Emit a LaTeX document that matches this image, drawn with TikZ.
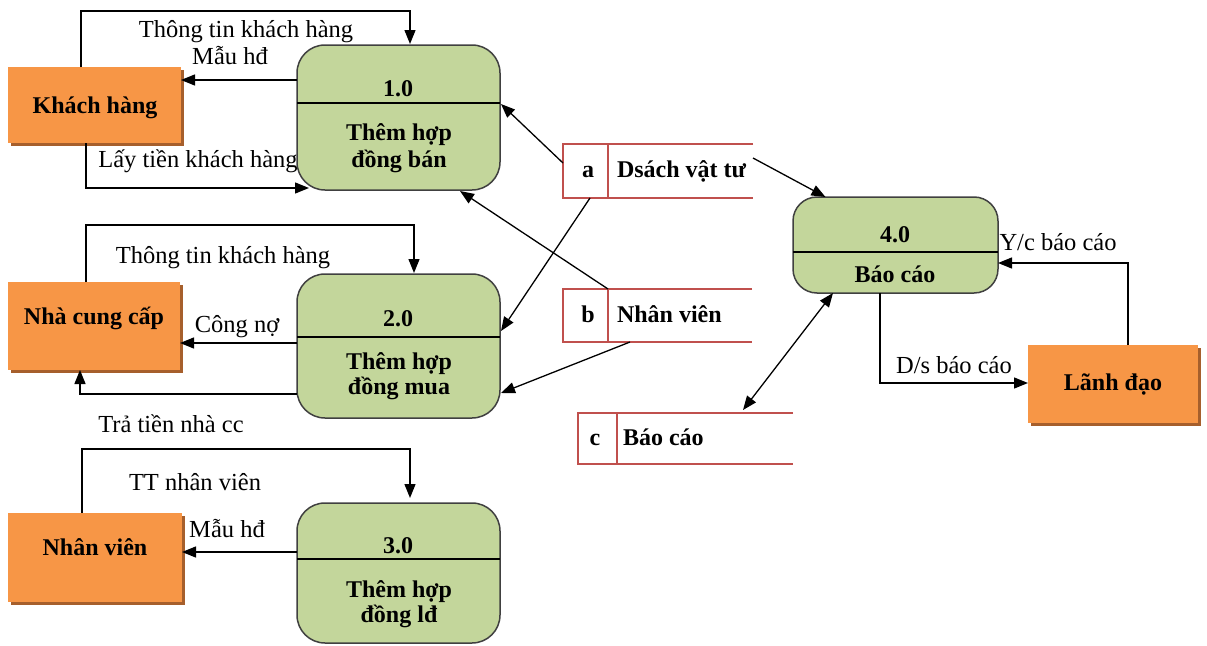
\documentclass[tikz,border=0pt]{standalone}
\usepackage{fontspec}
\setmainfont{Liberation Serif}
\usetikzlibrary{arrows.meta,shadows}
\definecolor{entorange}{HTML}{F79646}
\definecolor{entshadow}{HTML}{A65F2C}
\definecolor{procgreen}{HTML}{C3D69B}
\definecolor{procedge}{HTML}{404040}
\definecolor{storered}{HTML}{C0504D}
\begin{document}
\begin{tikzpicture}[x=1pt,y=-1pt,
  every node/.style={inner sep=0pt,outer sep=0pt},
  flow/.style={draw=black,line width=1.3pt,-{Triangle[length=14pt,width=11pt]}},
  biflow/.style={draw=black,line width=1.3pt,{Triangle[length=14pt,width=11pt]}-{Triangle[length=14pt,width=11pt]}},
  entity/.style={fill=entorange,anchor=north west,
    drop shadow={shadow xshift=3pt,shadow yshift=-3pt,fill=entshadow,opacity=1}},
  process/.style={draw=procedge,line width=1.5pt,fill=procgreen,rounded corners=28pt,anchor=north west},
  divider/.style={draw=black,line width=1.4pt},
  storebox/.style={anchor=north west},
  storeline/.style={draw=storered,line width=2.6pt},
  boldtxt/.style={anchor=base,font=\bfseries\fontsize{24}{28}\selectfont},
  flowtxt/.style={anchor=base,font=\fontsize{24.5}{28}\selectfont},
  storetxt/.style={anchor=base west,font=\bfseries\fontsize{24}{28}\selectfont}]
\useasboundingbox (0,0) rectangle (1207,645);

% ---- external entities
\node[entity,minimum width=173pt,minimum height=76pt] (kh) at (8,67) {};
\node[entity,minimum width=172pt,minimum height=88pt] (ncc) at (8,282) {};
\node[entity,minimum width=174pt,minimum height=89pt] (nv) at (8,513) {};
\node[entity,minimum width=170pt,minimum height=78pt] (ld) at (1028,345) {};
\node[boldtxt] (khT) at (95,113) {Khách hàng};
\node[boldtxt] (nccT) at (94,324) {Nhà cung cấp};
\node[boldtxt] (nvT) at (95,555) {Nhân viên};
\node[boldtxt] (ldT) at (1113,390) {Lãnh đạo};

% ---- flow labels (drawn before the processes)
\node[flowtxt] (l1) at (246,37) {Thông tin khách hàng};
\node[flowtxt] (l2) at (230,64) {Mẫu hđ};
\node[flowtxt] (l3) at (198,167) {Lấy tiền khách hàng};
\node[flowtxt] (l4) at (223,263) {Thông tin khách hàng};
\node[flowtxt] (l5) at (237,332) {Công nợ};
\node[flowtxt] (l6) at (171,432) {Trả tiền nhà cc};
\node[flowtxt] (l7) at (195,490) {TT nhân viên};
\node[flowtxt] (l8) at (227,537) {Mẫu hđ};
\node[flowtxt] (l9) at (1058,250) {Y/c báo cáo};
\node[flowtxt] (l10) at (954,373) {D/s báo cáo};

% ---- processes
\node[process,minimum width=203pt,minimum height=145pt] (p1) at (297,45) {};
\node[process,minimum width=203pt,minimum height=144pt] (p2) at (297,274) {};
\node[process,minimum width=203pt,minimum height=140pt] (p3) at (297,503) {};
\node[process,rounded corners=24pt,minimum width=205pt,minimum height=96pt] (p4) at (793,197) {};
\draw[divider] (p1.west |- 0,103) -- (p1.east |- 0,103);
\draw[divider] (p2.west |- 0,337) -- (p2.east |- 0,337);
\draw[divider] (p3.west |- 0,559) -- (p3.east |- 0,559);
\draw[divider] (p4.west |- 0,252) -- (p4.east |- 0,252);
\node[boldtxt] (p1n) at (398,96) {1.0};
\node[boldtxt] (p1a) at (399,140) {Thêm hợp};
\node[boldtxt] (p1b) at (399,167) {đồng bán};
\node[boldtxt] (p2n) at (398,326) {2.0};
\node[boldtxt] (p2a) at (399,369) {Thêm hợp};
\node[boldtxt] (p2b) at (399,394) {đồng mua};
\node[boldtxt] (p3n) at (398,553) {3.0};
\node[boldtxt] (p3a) at (399,597) {Thêm hợp};
\node[boldtxt] (p3b) at (399,622) {đồng lđ};
\node[boldtxt] (p4n) at (895,242) {4.0};
\node[boldtxt] (p4a) at (895,282) {Báo cáo};

% ---- data stores (open on the right)
\node[storebox,minimum width=190pt,minimum height=54pt] (sa) at (563,144) {};
\node[storebox,minimum width=189pt,minimum height=53pt] (sb) at (563,289) {};
\node[storebox,minimum width=215pt,minimum height=51pt] (sc) at (578,413) {};
\draw[storeline] (sa.north east) -- (sa.north west) -- (sa.south west) -- (sa.south east);
\draw[storeline] (sa.north west) ++(45,0) -- ++(0,54);
\draw[storeline] (sb.north east) -- (sb.north west) -- (sb.south west) -- (sb.south east);
\draw[storeline] (sb.north west) ++(45,0) -- ++(0,53);
\draw[storeline] (sc.north east) -- (sc.north west) -- (sc.south west) -- (sc.south east);
\draw[storeline] (sc.north west) ++(39,0) -- ++(0,51);
\node[boldtxt] (saI) at (588,177) {a};
\node[storetxt] (saT) at (617,177) {Dsách vật tư};
\node[boldtxt] (sbI) at (588,322) {b};
\node[storetxt] (sbT) at (617,322) {Nhân viên};
\node[boldtxt] (scI) at (595,445) {c};
\node[storetxt] (scT) at (623,445) {Báo cáo};

% ---- flows between entities and processes
\draw[flow] ([xshift=-13.5pt]kh.north) |- ([xshift=11.5pt,yshift=34pt]p1.north) -- ([xshift=11.5pt,yshift=1pt]p1.north);
\draw[flow] (p1.west |- 0,80) -- (kh.east |- 0,80);
\draw[flow] ([xshift=-8.5pt]kh.south) |- ([xshift=12pt,yshift=2pt]p1.south west);
\draw[flow] ([xshift=-8pt]ncc.north) |- ([xshift=15.5pt,yshift=49pt]p2.north) -- ([xshift=15.5pt,yshift=1pt]p2.north);
\draw[flow] (p2.west |- 0,343) -- (ncc.east |- 0,343);
\draw[flow] (p2.west |- 0,394) -| ([xshift=-14pt]ncc.south);
\draw[flow] ([xshift=-13pt]nv.north) |- ([xshift=11.5pt,yshift=54pt]p3.north) -- ([xshift=11.5pt,yshift=5pt]p3.north);
\draw[flow] (p3.west |- 0,552) -- (nv.east |- 0,552);

% ---- flows from the data stores
\draw[flow] ([yshift=8pt]sa.west) -- ([xshift=1pt]p1.east |- 0,104);
\draw[flow] ([xshift=-68pt]sa.south) -- ([xshift=1pt]p2.east |- 0,331);
\draw[flow] ([xshift=-49.5pt]sb.north) -- ([xshift=61.5pt,yshift=-1pt]p1.south);
\draw[flow] ([xshift=-27.5pt]sb.south) -- ([xshift=1pt]p2.east |- 0,393);
\draw[flow] ([yshift=13pt]sa.east) -- ([xshift=-70pt]p4.north);
\draw[biflow] ([xshift=-62.5pt]p4.south) -- ([xshift=57.5pt,yshift=3pt]sc.north);

% ---- report flows
\draw[flow] ([xshift=15pt]ld.north) |- (p4.east |- 0,263);
\draw[flow] ([xshift=-15.5pt]p4.south) |- ([yshift=1pt]ld.west);
\end{tikzpicture}
\end{document}
